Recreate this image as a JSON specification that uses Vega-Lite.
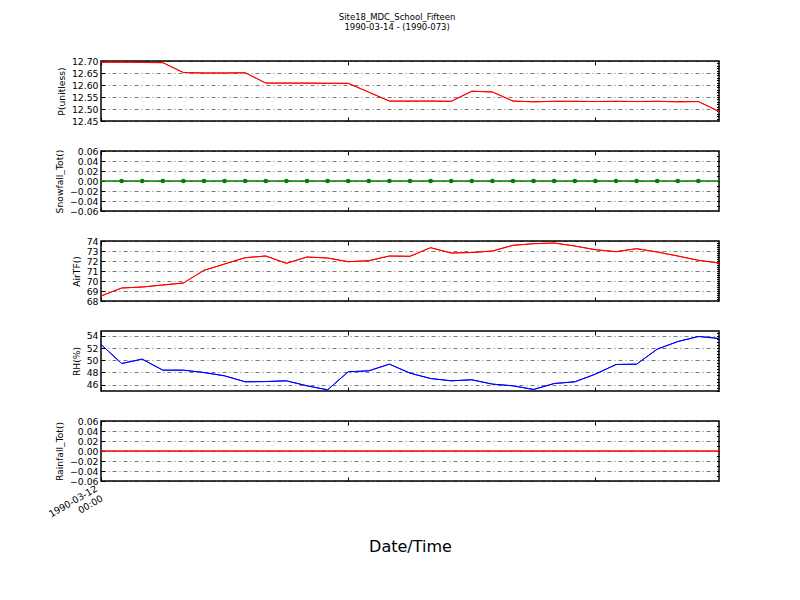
{
  "$schema": "https://vega.github.io/schema/vega-lite/v6.json",
  "background": "white",
  "padding": {"left": 46, "top": 13, "right": 5, "bottom": 5},
  "bounds": "flush",
  "spacing": 30,
  "title": {"text": ["Site18_MDC_School_Fifteen", "1990-03-14 - (1990-073)"], "font": "DejaVu Sans", "fontSize": 8.5, "fontWeight": "normal", "lineHeight": 9.5, "anchor": "middle", "offset": 25, "dx": 13},
  "config": {
    "view": {"stroke": "black", "strokeWidth": 1.5},
    "axis": {"labelFont": "DejaVu Sans", "labelFontSize": 9.3, "labelColor": "black", "titleFont": "DejaVu Sans", "titleFontSize": 9.2, "titleFontWeight": "normal", "titleColor": "black", "tickColor": "black", "domain": false, "gridColor": "black", "gridOpacity": 0.75, "gridWidth": 0.7, "gridDash": [4, 3, 1, 3]}
  },
  "data": {"values": [
    {"t": "1990-03-12T00:00:00", "P": 12.695, "Snow": 0, "AirTF": 68.5, "RH": 52.6, "Rain": 0},
    {"t": "1990-03-12T01:00:00", "P": 12.695, "Snow": 0, "AirTF": 69.3, "RH": 49.46, "Rain": 0},
    {"t": "1990-03-12T02:00:00", "P": 12.694, "Snow": 0, "AirTF": 69.4, "RH": 50.18, "Rain": 0},
    {"t": "1990-03-12T03:00:00", "P": 12.693, "Snow": 0, "AirTF": 69.6, "RH": 48.37, "Rain": 0},
    {"t": "1990-03-12T04:00:00", "P": 12.652, "Snow": 0, "AirTF": 69.8, "RH": 48.37, "Rain": 0},
    {"t": "1990-03-12T05:00:00", "P": 12.65, "Snow": 0, "AirTF": 71.07, "RH": 47.98, "Rain": 0},
    {"t": "1990-03-12T06:00:00", "P": 12.65, "Snow": 0, "AirTF": 71.7, "RH": 47.44, "Rain": 0},
    {"t": "1990-03-12T07:00:00", "P": 12.651, "Snow": 0, "AirTF": 72.33, "RH": 46.46, "Rain": 0},
    {"t": "1990-03-12T08:00:00", "P": 12.608, "Snow": 0, "AirTF": 72.5, "RH": 46.5, "Rain": 0},
    {"t": "1990-03-12T09:00:00", "P": 12.608, "Snow": 0, "AirTF": 71.77, "RH": 46.62, "Rain": 0},
    {"t": "1990-03-12T10:00:00", "P": 12.608, "Snow": 0, "AirTF": 72.4, "RH": 45.8, "Rain": 0},
    {"t": "1990-03-12T11:00:00", "P": 12.607, "Snow": 0, "AirTF": 72.3, "RH": 45.15, "Rain": 0},
    {"t": "1990-03-12T12:00:00", "P": 12.607, "Snow": 0, "AirTF": 71.93, "RH": 48.1, "Rain": 0},
    {"t": "1990-03-12T13:00:00", "P": 12.57, "Snow": 0, "AirTF": 72.03, "RH": 48.26, "Rain": 0},
    {"t": "1990-03-12T14:00:00", "P": 12.533, "Snow": 0, "AirTF": 72.5, "RH": 49.36, "Rain": 0},
    {"t": "1990-03-12T15:00:00", "P": 12.533, "Snow": 0, "AirTF": 72.47, "RH": 47.88, "Rain": 0},
    {"t": "1990-03-12T16:00:00", "P": 12.533, "Snow": 0, "AirTF": 73.33, "RH": 47.0, "Rain": 0},
    {"t": "1990-03-12T17:00:00", "P": 12.532, "Snow": 0, "AirTF": 72.8, "RH": 46.62, "Rain": 0},
    {"t": "1990-03-12T18:00:00", "P": 12.574, "Snow": 0, "AirTF": 72.85, "RH": 46.79, "Rain": 0},
    {"t": "1990-03-12T19:00:00", "P": 12.571, "Snow": 0, "AirTF": 73.0, "RH": 46.08, "Rain": 0},
    {"t": "1990-03-12T20:00:00", "P": 12.533, "Snow": 0, "AirTF": 73.57, "RH": 45.8, "Rain": 0},
    {"t": "1990-03-12T21:00:00", "P": 12.53, "Snow": 0, "AirTF": 73.73, "RH": 45.2, "Rain": 0},
    {"t": "1990-03-12T22:00:00", "P": 12.532, "Snow": 0, "AirTF": 73.8, "RH": 46.18, "Rain": 0},
    {"t": "1990-03-12T23:00:00", "P": 12.532, "Snow": 0, "AirTF": 73.5, "RH": 46.46, "Rain": 0},
    {"t": "1990-03-13T00:00:00", "P": 12.531, "Snow": 0, "AirTF": 73.13, "RH": 47.72, "Rain": 0},
    {"t": "1990-03-13T01:00:00", "P": 12.532, "Snow": 0, "AirTF": 72.93, "RH": 49.3, "Rain": 0},
    {"t": "1990-03-13T02:00:00", "P": 12.531, "Snow": 0, "AirTF": 73.23, "RH": 49.36, "Rain": 0},
    {"t": "1990-03-13T03:00:00", "P": 12.532, "Snow": 0, "AirTF": 72.9, "RH": 51.82, "Rain": 0},
    {"t": "1990-03-13T04:00:00", "P": 12.53, "Snow": 0, "AirTF": 72.5, "RH": 53.07, "Rain": 0},
    {"t": "1990-03-13T05:00:00", "P": 12.531, "Snow": 0, "AirTF": 72.07, "RH": 53.9, "Rain": 0},
    {"t": "1990-03-13T06:00:00", "P": 12.49, "Snow": 0, "AirTF": 71.8, "RH": 53.57, "Rain": 0}
  ]},
  "vconcat": [
    {
      "width": 618, "height": 60,
      "layer": [
        {"mark": {"type": "line", "color": "red", "strokeWidth": 1},
         "encoding": {
           "x": {"field": "t", "type": "temporal", "scale": {"nice": false}, "axis": {"title": null, "labels": false, "grid": false, "tickSize": -4, "values": [{"year": 1990, "month": 3, "date": 12, "hours": 0}, {"year": 1990, "month": 3, "date": 12, "hours": 12}, {"year": 1990, "month": 3, "date": 13, "hours": 0}]}},
           "y": {"field": "P", "type": "quantitative", "scale": {"domain": [12.45, 12.7], "nice": false, "zero": false}, "axis": {"title": "P(unitless)", "values": [12.45, 12.5, 12.55, 12.6, 12.65, 12.7], "format": ".2f", "grid": true, "tickSize": -4, "labelPadding": 7, "titlePadding": 5}}
         }},
        {"mark": {"type": "line", "color": "red", "strokeWidth": 1},
         "encoding": {
           "x": {"field": "t", "type": "temporal", "scale": {"nice": false}, "axis": {"orient": "top", "title": null, "labels": false, "grid": false, "tickSize": -4, "values": [{"year": 1990, "month": 3, "date": 12, "hours": 0}, {"year": 1990, "month": 3, "date": 12, "hours": 12}, {"year": 1990, "month": 3, "date": 13, "hours": 0}]}},
           "y": {"field": "P", "type": "quantitative", "scale": {"domain": [12.45, 12.7], "nice": false, "zero": false}, "axis": {"orient": "right", "title": null, "labels": false, "grid": false, "tickSize": -2.5, "values": [12.46, 12.47, 12.48, 12.49, 12.5, 12.51, 12.52, 12.53, 12.54, 12.55, 12.56, 12.57, 12.58, 12.59, 12.6, 12.61, 12.62, 12.63, 12.64, 12.65, 12.66, 12.67, 12.68, 12.69]}}
         }}
      ],
      "resolve": {"axis": {"x": "independent", "y": "independent"}}
    },
    {
      "width": 618, "height": 60,
      "layer": [
        {"mark": {"type": "line", "color": "green", "strokeWidth": 1},
         "encoding": {
           "x": {"field": "t", "type": "temporal", "scale": {"nice": false}, "axis": {"title": null, "labels": false, "grid": false, "tickSize": -4, "values": [{"year": 1990, "month": 3, "date": 12, "hours": 0}, {"year": 1990, "month": 3, "date": 12, "hours": 12}, {"year": 1990, "month": 3, "date": 13, "hours": 0}]}},
           "y": {"field": "Snow", "type": "quantitative", "scale": {"domain": [-0.06, 0.06], "nice": false, "zero": false}, "axis": {"title": "Snowfall_Tot()", "values": [-0.06, -0.04, -0.02, 0, 0.02, 0.04, 0.06], "format": ".2f", "grid": true, "tickSize": -4, "labelPadding": 7, "titlePadding": 5}}
         }},
        {"mark": {"type": "line", "color": "green", "strokeWidth": 1},
         "encoding": {
           "x": {"field": "t", "type": "temporal", "scale": {"nice": false}, "axis": {"orient": "top", "title": null, "labels": false, "grid": false, "tickSize": -4, "values": [{"year": 1990, "month": 3, "date": 12, "hours": 0}, {"year": 1990, "month": 3, "date": 12, "hours": 12}, {"year": 1990, "month": 3, "date": 13, "hours": 0}]}},
           "y": {"field": "Snow", "type": "quantitative", "scale": {"domain": [-0.06, 0.06], "nice": false, "zero": false}, "axis": {"orient": "right", "title": null, "labels": false, "grid": false, "tickSize": -2.5, "values": [-0.05, -0.04, -0.03, -0.02, -0.01, 0, 0.01, 0.02, 0.03, 0.04, 0.05]}}
         }},
        {"transform": [{"filter": "datum.t > datetime(1990, 2, 12, 0, 30) && datum.t < datetime(1990, 2, 13, 5, 30)"}],
         "mark": {"type": "point", "filled": true, "size": 22, "color": "green", "opacity": 1},
         "encoding": {
           "x": {"field": "t", "type": "temporal", "axis": null},
           "y": {"field": "Snow", "type": "quantitative", "axis": null}
         }}
      ],
      "resolve": {"axis": {"x": "independent", "y": "independent"}}
    },
    {
      "width": 618, "height": 60,
      "layer": [
        {"mark": {"type": "line", "color": "red", "strokeWidth": 1},
         "encoding": {
           "x": {"field": "t", "type": "temporal", "scale": {"nice": false}, "axis": {"title": null, "labels": false, "grid": false, "tickSize": -4, "values": [{"year": 1990, "month": 3, "date": 12, "hours": 0}, {"year": 1990, "month": 3, "date": 12, "hours": 12}, {"year": 1990, "month": 3, "date": 13, "hours": 0}]}},
           "y": {"field": "AirTF", "type": "quantitative", "scale": {"domain": [68, 74], "nice": false, "zero": false}, "axis": {"title": "AirTF()", "values": [68, 69, 70, 71, 72, 73, 74], "format": "d", "grid": true, "tickSize": -4, "labelPadding": 7, "titlePadding": 5}}
         }},
        {"mark": {"type": "line", "color": "red", "strokeWidth": 1},
         "encoding": {
           "x": {"field": "t", "type": "temporal", "scale": {"nice": false}, "axis": {"orient": "top", "title": null, "labels": false, "grid": false, "tickSize": -4, "values": [{"year": 1990, "month": 3, "date": 12, "hours": 0}, {"year": 1990, "month": 3, "date": 12, "hours": 12}, {"year": 1990, "month": 3, "date": 13, "hours": 0}]}},
           "y": {"field": "AirTF", "type": "quantitative", "scale": {"domain": [68, 74], "nice": false, "zero": false}, "axis": {"orient": "right", "title": null, "labels": false, "grid": false, "tickSize": -2.5, "values": [68.2, 68.4, 68.6, 68.8, 69, 69.2, 69.4, 69.6, 69.8, 70, 70.2, 70.4, 70.6, 70.8, 71, 71.2, 71.4, 71.6, 71.8, 72, 72.2, 72.4, 72.6, 72.8, 73, 73.2, 73.4, 73.6, 73.8]}}
         }}
      ],
      "resolve": {"axis": {"x": "independent", "y": "independent"}}
    },
    {
      "width": 618, "height": 60,
      "layer": [
        {"mark": {"type": "line", "color": "blue", "strokeWidth": 1},
         "encoding": {
           "x": {"field": "t", "type": "temporal", "scale": {"nice": false}, "axis": {"title": null, "labels": false, "grid": false, "tickSize": -4, "values": [{"year": 1990, "month": 3, "date": 12, "hours": 0}, {"year": 1990, "month": 3, "date": 12, "hours": 12}, {"year": 1990, "month": 3, "date": 13, "hours": 0}]}},
           "y": {"field": "RH", "type": "quantitative", "scale": {"domain": [44.95, 54.8], "nice": false, "zero": false}, "axis": {"title": "RH(%)", "values": [46, 48, 50, 52, 54], "format": "d", "grid": true, "tickSize": -4, "labelPadding": 7, "titlePadding": 5}}
         }},
        {"mark": {"type": "line", "color": "blue", "strokeWidth": 1},
         "encoding": {
           "x": {"field": "t", "type": "temporal", "scale": {"nice": false}, "axis": {"orient": "top", "title": null, "labels": false, "grid": false, "tickSize": -4, "values": [{"year": 1990, "month": 3, "date": 12, "hours": 0}, {"year": 1990, "month": 3, "date": 12, "hours": 12}, {"year": 1990, "month": 3, "date": 13, "hours": 0}]}},
           "y": {"field": "RH", "type": "quantitative", "scale": {"domain": [44.95, 54.8], "nice": false, "zero": false}, "axis": {"orient": "right", "title": null, "labels": false, "grid": false, "tickSize": -2.5, "values": [45, 45.5, 46, 46.5, 47, 47.5, 48, 48.5, 49, 49.5, 50, 50.5, 51, 51.5, 52, 52.5, 53, 53.5, 54, 54.5]}}
         }}
      ],
      "resolve": {"axis": {"x": "independent", "y": "independent"}}
    },
    {
      "width": 618, "height": 60,
      "layer": [
        {"mark": {"type": "line", "color": "red", "strokeWidth": 1},
         "encoding": {
           "x": {"field": "t", "type": "temporal", "scale": {"nice": false}, "axis": {"title": "Date/Time", "titleFontSize": 16, "titlePadding": 10, "labels": true, "labelAngle": -30, "labelAlign": "right", "labelBaseline": "top", "labelFontSize": 9.3, "labelPadding": 7, "labelOffset": -7, "labelExpr": "timeFormat(datum.value, '%d %H') == '12 00' ? ['1990-03-12', '00:00'] : ''", "grid": false, "tickSize": -4, "values": [{"year": 1990, "month": 3, "date": 12, "hours": 0}, {"year": 1990, "month": 3, "date": 12, "hours": 12}, {"year": 1990, "month": 3, "date": 13, "hours": 0}]}},
           "y": {"field": "Rain", "type": "quantitative", "scale": {"domain": [-0.06, 0.06], "nice": false, "zero": false}, "axis": {"title": "Rainfall_Tot()", "values": [-0.06, -0.04, -0.02, 0, 0.02, 0.04, 0.06], "format": ".2f", "grid": true, "tickSize": -4, "labelPadding": 7, "titlePadding": 5}}
         }},
        {"mark": {"type": "line", "color": "red", "strokeWidth": 1},
         "encoding": {
           "x": {"field": "t", "type": "temporal", "scale": {"nice": false}, "axis": {"orient": "top", "title": null, "labels": false, "grid": false, "tickSize": -4, "values": [{"year": 1990, "month": 3, "date": 12, "hours": 0}, {"year": 1990, "month": 3, "date": 12, "hours": 12}, {"year": 1990, "month": 3, "date": 13, "hours": 0}]}},
           "y": {"field": "Rain", "type": "quantitative", "scale": {"domain": [-0.06, 0.06], "nice": false, "zero": false}, "axis": {"orient": "right", "title": null, "labels": false, "grid": false, "tickSize": -2.5, "values": [-0.05, -0.04, -0.03, -0.02, -0.01, 0, 0.01, 0.02, 0.03, 0.04, 0.05]}}
         }}
      ],
      "resolve": {"axis": {"x": "independent", "y": "independent"}}
    }
  ]
}
